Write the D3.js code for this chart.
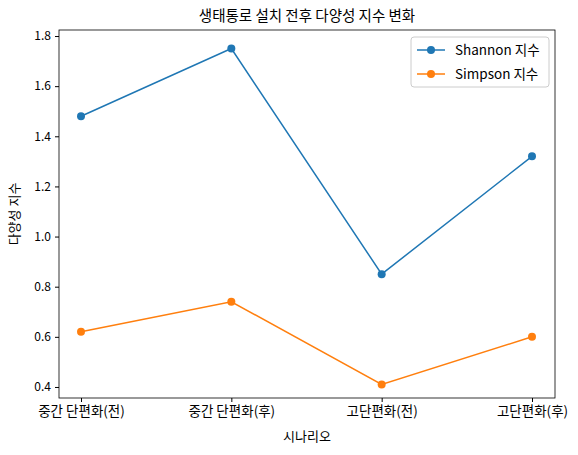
<!DOCTYPE html>
<html><head><meta charset="utf-8">
<script src="https://cdn.jsdelivr.net/npm/d3@7"></script>
<style>body{margin:0;background:#fff}text{font-family:"Noto Sans CJK KR","Noto Sans",sans-serif}</style>
</head><body><svg id="c" width="578" height="455"></svg>
<script>
const categories = ["중간 단편화(전)","중간 단편화(후)","고단편화(전)","고단편화(후)"];
const shannon = [1.48, 1.75, 0.85, 1.32];
const simpson = [0.62, 0.74, 0.41, 0.60];
const yTicks = [0.4,0.6,0.8,1.0,1.2,1.4,1.6,1.8];
const seriesNames = ["Shannon 지수","Simpson 지수"];
const colors = ["#1f77b4","#ff7f0e"];

const svg = d3.select("#c");
const L=59,R=555,T=30,B=398;
const x = d3.scalePoint().domain(categories).range([81,532]);
const y = d3.scaleLinear().domain([0.356,1.824]).range([B,T]);

svg.append("g").attr("transform",`translate(0,${B})`)
  .call(d3.axisBottom(x).tickSizeOuter(0).tickSize(4).tickPadding(4))
  .call(g=>g.select(".domain").remove())
  .selectAll("text").attr("font-size",13.5).attr("fill","#000");
svg.append("g").attr("transform",`translate(${L},0)`)
  .call(d3.axisLeft(y).tickValues(yTicks).tickFormat(d3.format(".1f")).tickSize(4).tickPadding(4))
  .call(g=>g.select(".domain").remove())
  .selectAll("text").attr("font-size",12).attr("fill","#000");
svg.append("rect").attr("x",L).attr("y",T).attr("width",R-L).attr("height",B-T)
  .attr("fill","none").attr("stroke","#000").attr("stroke-width",0.8);

const line = d3.line().x((d,i)=>x(categories[i])).y(d=>y(d));
[shannon,simpson].forEach((s,k)=>{
  svg.append("path").datum(s).attr("d",line).attr("fill","none").attr("stroke",colors[k]).attr("stroke-width",1.5);
  svg.selectAll(null).data(s).enter().append("circle")
    .attr("cx",(d,i)=>x(categories[i])).attr("cy",d=>y(d)).attr("r",4).attr("fill",colors[k]);
});

svg.append("text").attr("x",(L+R)/2).attr("y",21).attr("text-anchor","middle").attr("font-size",14.5).text("생태통로 설치 전후 다양성 지수 변화");
svg.append("text").attr("x",(L+R)/2).attr("y",441).attr("text-anchor","middle").attr("font-size",13).text("시나리오");
svg.append("text").attr("transform",`translate(19,${(T+B)/2}) rotate(-90)`).attr("text-anchor","middle").attr("font-size",13).text("다양성 지수");

const lg = svg.append("g");
lg.append("rect").attr("x",411).attr("y",37).attr("width",138).attr("height",50).attr("rx",3)
  .attr("fill","#fff").attr("stroke","#ccc");
seriesNames.forEach((n,k)=>{
  const yy=50+k*24;
  lg.append("line").attr("x1",417).attr("x2",445).attr("y1",yy).attr("y2",yy).attr("stroke",colors[k]).attr("stroke-width",1.5);
  lg.append("circle").attr("cx",431).attr("cy",yy).attr("r",4).attr("fill",colors[k]);
  lg.append("text").attr("x",455).attr("y",yy+4.5).attr("font-size",13.5).text(n);
});
</script></body></html>
